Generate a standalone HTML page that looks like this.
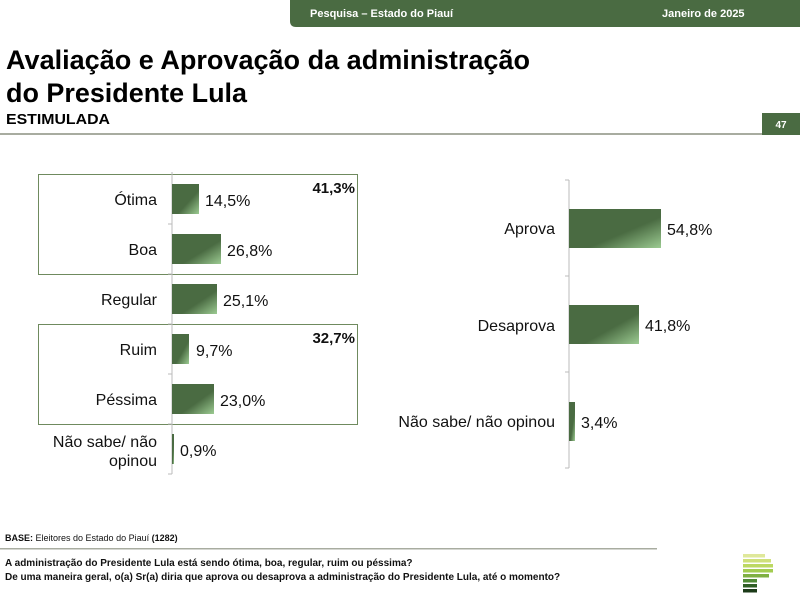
<!DOCTYPE html>
<html><head><meta charset="utf-8"><style>
html,body{margin:0;padding:0;background:#fff;}
body{width:800px;height:603px;overflow:hidden;position:relative;font-family:"Liberation Sans",sans-serif;}
svg{position:absolute;left:0;top:0}
</style></head><body>
<svg width="800" height="603" viewBox="0 0 800 603" xmlns="http://www.w3.org/2000/svg" font-family="Liberation Sans, sans-serif">
<defs>
<linearGradient id="g" x1="0" y1="0" x2="1" y2="1">
<stop offset="0" stop-color="#4a6b42"/><stop offset="0.6" stop-color="#4a6b42"/><stop offset="1" stop-color="#9ccb92"/>
</linearGradient>
</defs>
<path d="M290 0 H800 V27 H296 Q290 27 290 21 Z" fill="#4a6b42"/>
<text x="310" y="17" fill="#fff" font-size="11" font-weight="bold">Pesquisa – Estado do Piauí</text>
<text x="662" y="17" fill="#fff" font-size="11" font-weight="bold">Janeiro de 2025</text>
<text x="6" y="69" font-size="27" font-weight="bold" fill="#000" textLength="524" lengthAdjust="spacingAndGlyphs">Avaliação e Aprovação da administração</text>
<text x="6" y="102" font-size="27" font-weight="bold" fill="#000" textLength="241" lengthAdjust="spacingAndGlyphs">do Presidente Lula</text>
<text x="6" y="124" font-size="15" font-weight="bold" fill="#000" textLength="104" lengthAdjust="spacingAndGlyphs">ESTIMULADA</text>
<rect x="0" y="133" width="762" height="2" fill="#a8aca0"/>
<rect x="762" y="113" width="38" height="22" fill="#4a6b42"/>
<text x="781" y="128" fill="#fff" font-size="10" font-weight="bold" text-anchor="middle">47</text>

<rect x="38.5" y="174.5" width="319" height="100" fill="none" stroke="#6f8a5e" stroke-width="1"/>
<rect x="38.5" y="324.5" width="319" height="100" fill="none" stroke="#6f8a5e" stroke-width="1"/>
<line x1="172" y1="172" x2="172" y2="474" stroke="#bbb"/>
<g stroke="#bbb"><line x1="168" y1="224" x2="172" y2="224"/><line x1="168" y1="274" x2="172" y2="274"/><line x1="168" y1="324" x2="172" y2="324"/><line x1="168" y1="374" x2="172" y2="374"/><line x1="168" y1="424" x2="172" y2="424"/><line x1="168" y1="474" x2="172" y2="474"/></g>
<g fill="url(#g)">
<rect x="172" y="184" width="27" height="30"/>
<rect x="172" y="234" width="49" height="30"/>
<rect x="172" y="284" width="45" height="30"/>
<rect x="172" y="334" width="17" height="30"/>
<rect x="172" y="384" width="42" height="30"/>
<rect x="172" y="434" width="2" height="30"/>
</g>
<g font-size="16" fill="#111">
<text x="157" y="205" text-anchor="end">Ótima</text>
<text x="157" y="255" text-anchor="end">Boa</text>
<text x="157" y="305" text-anchor="end">Regular</text>
<text x="157" y="355" text-anchor="end">Ruim</text>
<text x="157" y="405" text-anchor="end">Péssima</text>
<text x="157" y="447" text-anchor="end">Não sabe/ não</text>
<text x="157" y="466" text-anchor="end">opinou</text>
<text x="205" y="206">14,5%</text>
<text x="227" y="256">26,8%</text>
<text x="223" y="306">25,1%</text>
<text x="196" y="356">9,7%</text>
<text x="220" y="406">23,0%</text>
<text x="180" y="456">0,9%</text>
<text x="355" y="193" text-anchor="end" font-weight="bold" font-size="15">41,3%</text>
<text x="355" y="343" text-anchor="end" font-weight="bold" font-size="15">32,7%</text>
</g>

<line x1="569" y1="180" x2="569" y2="468" stroke="#bbb"/>
<g stroke="#bbb"><line x1="565" y1="180" x2="569" y2="180"/><line x1="565" y1="276" x2="569" y2="276"/><line x1="565" y1="372" x2="569" y2="372"/><line x1="565" y1="468" x2="569" y2="468"/></g>
<g fill="url(#g)">
<rect x="569" y="209" width="92" height="39"/>
<rect x="569" y="305" width="70" height="39"/>
<rect x="569" y="402" width="6" height="39"/>
</g>
<g font-size="16" fill="#111">
<text x="555" y="234" text-anchor="end">Aprova</text>
<text x="555" y="331" text-anchor="end">Desaprova</text>
<text x="555" y="427" text-anchor="end">Não sabe/ não opinou</text>
<text x="667" y="235">54,8%</text>
<text x="645" y="331">41,8%</text>
<text x="581" y="428">3,4%</text>
</g>

<text x="5" y="541" font-size="9" fill="#111"><tspan font-weight="bold">BASE:</tspan> Eleitores do Estado do Piauí <tspan font-weight="bold">(1282)</tspan></text>
<rect x="0" y="548" width="657" height="1.5" fill="#a8aca0"/>
<text x="5" y="566" font-size="10" font-weight="bold" fill="#111">A administração do Presidente Lula está sendo ótima, boa, regular, ruim ou péssima?</text>
<text x="5" y="580" font-size="10" font-weight="bold" fill="#111">De uma maneira geral, o(a) Sr(a) diria que aprova ou desaprova a administração do Presidente Lula, até o momento?</text>

<g>
<rect x="743" y="554" width="22" height="3.5" fill="#dfe89a"/>
<rect x="743" y="559" width="28" height="3.5" fill="#cfe07a"/>
<rect x="743" y="564" width="30" height="3.5" fill="#bcd862"/>
<rect x="743" y="569" width="30" height="3.5" fill="#a3cc50"/>
<rect x="743" y="574" width="26" height="3.5" fill="#7fb042"/>
<rect x="743" y="579" width="14" height="3.5" fill="#4f8a34"/>
<rect x="743" y="584" width="14" height="3.5" fill="#2f5e24"/>
<rect x="743" y="589" width="14" height="3.5" fill="#1c3a18"/>
</g>
</svg>
</body></html>
